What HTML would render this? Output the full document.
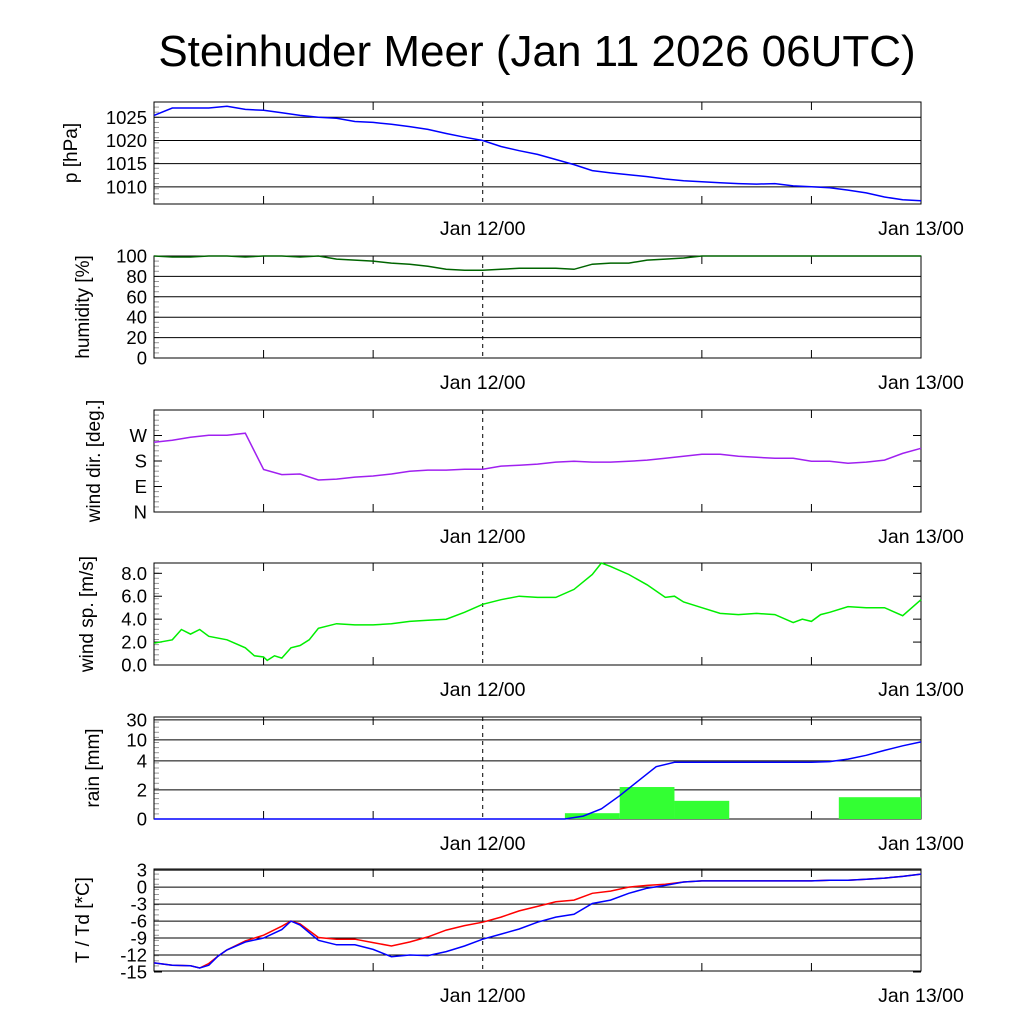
<!DOCTYPE html>
<html><head><meta charset="utf-8"><style>
body{margin:0;background:#fff}
svg{display:block;font-family:"Liberation Sans",sans-serif}
</style></head><body>
<svg id="c" width="1024" height="1024" viewBox="0 0 1024 1024">
<text x="537" y="66" font-size="44" text-anchor="middle">Steinhuder Meer (Jan 11 2026 06UTC)</text>
</svg>
<script>
const hours=[0,1,2,3,4,5,6,7,8,9,10,11,12,13,14,15,16,17,18,19,20,21,22,23,24,25,26,27,28,29,30,31,32,33,34,35,36,37,38,39,40,41,42];
const pressure=[1025.4,1027,1027,1027,1027.4,1026.7,1026.5,1026,1025.4,1025,1024.8,1024.1,1023.9,1023.5,1023,1022.4,1021.5,1020.7,1020,1018.7,1017.8,1017,1015.9,1014.8,1013.5,1013,1012.6,1012.2,1011.7,1011.3,1011.1,1010.9,1010.7,1010.6,1010.7,1010.2,1010,1009.8,1009.3,1008.7,1007.8,1007.2,1007];
const humidity=[100,99,99,100,100,99,100,100,99,100,97,96,95,93,92,90,87,86,86,87,88,88,88,87,92,93,93,96,97,98,100,100,100,100,100,100,100,100,100,100,100,100,100];
const windDir=[246,253,264,271,271,278,150,132,134,113,116,123,127,134,144,148,148,151,151,162,165,169,176,179,176,176,179,183,190,197,204,204,197,193,190,190,179,179,172,176,183,207,225];
const speedHours=[0,1,1.5,2,2.5,3,4,5,5.5,6,6.2,6.6,7,7.5,8,8.5,9,10,11,12,13,14,15,16,17,18,19,20,21,22,23,24,24.5,25,26,27,28,28.5,29,30,31,32,33,34,35,35.5,36,36.5,37,38,39,40,41,42];
const windSpeed=[1.9,2.2,3.1,2.7,3.1,2.5,2.2,1.5,0.8,0.7,0.4,0.8,0.6,1.5,1.7,2.2,3.2,3.6,3.5,3.5,3.6,3.8,3.9,4.0,4.6,5.3,5.7,6.0,5.9,5.9,6.6,7.9,8.9,8.6,7.9,7.0,5.9,6.0,5.5,5.0,4.5,4.4,4.5,4.4,3.7,4.0,3.8,4.4,4.6,5.1,5.0,5.0,4.3,5.7];
const rainBinStart=[22.5,25.5,28.5,37.5];
const rainBinEnd=[25.5,28.5,31.5,42];
const rainAmount=[0.4,2.2,1.25,1.5];
const accumHours=[0,22.5,23.5,24.5,25.5,26.5,27.5,28.5,30,32,34,36,37,38,39,40,41,42];
const accumRain=[0,0,0.2,0.7,1.6,2.6,3.6,3.9,3.9,3.9,3.9,3.9,3.95,4.5,5.6,7,8.3,9.4];
const tempHours=[0,1,2,2.5,3,3.5,4,5,6,7,7.5,8,9,10,11,12,13,14,15,16,17,18,19,20,21,22,23,24,25,26,27,28,29,30,31,32,33,34,35,36,37,38,39,40,41,42];
const temp=[-13.4,-13.8,-13.9,-14.3,-13.5,-12.2,-11.1,-9.5,-8.5,-6.9,-6,-6.5,-8.9,-9.2,-9.2,-9.8,-10.4,-9.7,-8.8,-7.6,-6.8,-6.2,-5.3,-4.2,-3.4,-2.6,-2.3,-1.1,-0.7,0,0.3,0.5,0.9,1.1,1.1,1.1,1.1,1.1,1.1,1.1,1.2,1.2,1.4,1.6,1.9,2.3];
const dewpoint=[-13.4,-13.8,-13.9,-14.3,-13.8,-12.2,-11.1,-9.7,-9.0,-7.5,-6,-6.7,-9.4,-10.2,-10.2,-11,-12.3,-12,-12.1,-11.4,-10.4,-9.2,-8.3,-7.4,-6.2,-5.3,-4.8,-2.9,-2.3,-1.1,-0.2,0.3,0.9,1.1,1.1,1.1,1.1,1.1,1.1,1.1,1.2,1.2,1.4,1.6,1.9,2.3];
const pTicks=[1010,1015,1020,1025];
const hTicks=[0,20,40,60,80,100];
const dTicks=[0,90,180,270];
const dLabels=["N","E","S","W"];
const sTicks=[0,2,4,6,8];
const rTicks=[0,2,4,10,30];
const tTicks=[-15,-12,-9,-6,-3,0,3];

const NS="http://www.w3.org/2000/svg";
const svg=document.getElementById('c');
const X0=154,X1=921,H=42;
const xs=h=>X0+(X1-X0)*h/H;
function el(t,a,p){const e=document.createElementNS(NS,t);for(const k in a)e.setAttribute(k,a[k]);(p||svg).appendChild(e);return e;}
function lin(d0,d1,top,bot){return v=>bot-(v-d0)/(d1-d0)*(bot-top);}
function rainScale(top,bot){return v=>{const h=bot-top;
 if(v<=4)return bot-v/4*(h*0.57);const y4=bot-h*0.57;
 if(v<=10)return y4-(v-4)/6*(h*0.206);const y10=y4-h*0.206;
 return y10-(v-10)/20*(h*0.196);};}
const panels=[
 {top:102,label:"p [hPa]",tx:77,name:"pressure",y:lin(1006.3,1028.3,102,204),ticks:pTicks},
 {top:256,label:"humidity [%]",tx:89,name:"humidity",y:lin(0,100,256,358),ticks:hTicks},
 {top:410,label:"wind dir. [deg.]",tx:100,name:"wind-direction",y:lin(0,360,410,512),ticks:dTicks,labels:dLabels,noGrid:true},
 {top:563,label:"wind sp. [m/s]",tx:93,name:"wind-speed",y:lin(0,8.9,563,665),ticks:sTicks,fmt:v=>v.toFixed(1),noGrid:true},
 {top:717,label:"rain [mm]",tx:99,name:"rain",y:rainScale(717,819),ticks:rTicks},
 {top:869,label:"T / Td [*C]",tx:89,name:"temperature",y:lin(-15,3.2,869,972),ticks:tTicks}
];
panels.forEach((p,i)=>{
 const bot=p.top+102;const g=el('g',{});
 
 
 p.g=g;p.bot=bot;
 for(let k=1;k<20;k++){el('line',{x1:X0,x2:X0+5,y1:p.top+k*102/20,y2:p.top+k*102/20,stroke:'#999','stroke-width':1},g);}
 p.ticks.forEach((t,j)=>{const y=p.y(t);
  if(!p.noGrid&&y>p.top+1&&y<bot-1)el('line',{x1:X0,x2:X1,y1:y,y2:y,stroke:'#000','stroke-width':1},g);
  else{el('line',{x1:X0,x2:X0+8,y1:y,y2:y,stroke:'#000'},g);el('line',{x1:X1-8,x2:X1,y1:y,y2:y,stroke:'#000'},g);}
  const tx=el('text',{x:X0-7,y:y+6.5,'font-size':18.5,'text-anchor':'end'},g);
  
  
  tx.textContent=p.labels?p.labels[j]:(p.fmt?p.fmt(t):t);
 });
 [6,12,30,36].forEach(h=>{el('line',{x1:xs(h),x2:xs(h),y1:bot,y2:bot-8,stroke:'#000'},g);el('line',{x1:xs(h),x2:xs(h),y1:p.top,y2:p.top+8,stroke:'#000'},g);});
 el('line',{x1:xs(18),x2:xs(18),y1:p.top,y2:bot,stroke:'#000','stroke-dasharray':'4,4'},g);
 el('rect',{x:X0,y:p.top,width:X1-X0,height:102,fill:'none',stroke:'#000','stroke-width':1},g);
 const yl=el('text',{transform:`translate(${p.tx},${p.top+51}) rotate(-90)`,'font-size':19,'text-anchor':'middle'},g);
 
 
 yl.textContent=p.label;
 [[18,"Jan 12/00"],[42,"Jan 13/00"]].forEach(([h,s])=>{const t=el('text',{x:xs(h),y:bot+31,'font-size':19.5,'text-anchor':'middle'},g);
  
  
  t.textContent=s;});
});
function line(p,hx,vals,color,name){const d=hx.map((h,i)=>(i?'L':'M')+xs(h).toFixed(1)+','+p.y(vals[i]).toFixed(1)).join('');
 const e=el('path',{d:d,fill:'none',stroke:color,'stroke-width':1.5},p.g);
 
 }
const P=panels;
rainAmount.forEach((v,i)=>{const r=el('rect',{x:xs(rainBinStart[i]),y:P[4].y(v),width:xs(rainBinEnd[i])-xs(rainBinStart[i]),height:P[4].bot-P[4].y(v),fill:'#33ff33'},P[4].g);
 
 });
line(P[0],hours,pressure,'#0000ff','pressure-line');
line(P[1],hours,humidity,'#006400','humidity-line');
line(P[2],hours,windDir,'#a020f0','wind-direction-line');
line(P[3],speedHours,windSpeed,'#00ee00','wind-speed-line');
line(P[4],accumHours,accumRain,'#0000ff','accumulated-rain-line');
line(P[5],tempHours,temp,'#ff0000','temperature-line');
line(P[5],tempHours,dewpoint,'#0000ff','dewpoint-line');
</script>
</body></html>
